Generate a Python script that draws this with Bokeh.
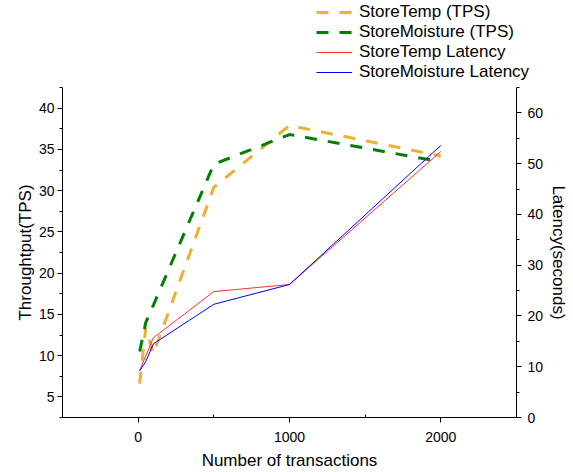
from bokeh.plotting import figure
from bokeh.models import (Range1d, LinearAxis, FixedTicker, Legend, LegendItem)
from bokeh.layouts import column
from bokeh.embed import file_html
from bokeh.resources import INLINE

# ---- data ----
transactions = [10, 50, 100, 500, 1000, 2000]
store_temp_tps = [6.6, 13.4, 10.2, 30.4, 37.9, 34.2]
store_moist_tps = [10.5, 14.0, 16.1, 33.2, 36.8, 33.5]
store_temp_latency = [9.3, 12.1, 15.7, 24.8, 26.2, 52.4]
store_moist_latency = [9.2, 11.0, 14.5, 22.3, 26.2, 53.6]

series_names = ["StoreTemp (TPS)", "StoreMoisture (TPS)",
                "StoreTemp Latency", "StoreMoisture Latency"]

x_major = [0, 1000, 2000]
x_minor = [-500, 500, 1500, 2500]
y_major = [5, 10, 15, 20, 25, 30, 35, 40]
y_minor = [2.5 + 2.5 * i for i in range(17)]
lat_major = [0, 10, 20, 30, 40, 50, 60]
lat_minor = [5 * i for i in range(14)]

FONT = "Liberation Sans"
ORANGE, GREEN, RED, BLUE = "#EBB035", "#008000", "#FF3030", "#0000FF"
styles = [dict(line_color=ORANGE, line_width=3, line_dash="12 11"),
          dict(line_color=GREEN, line_width=3, line_dash="12 11"),
          dict(line_color=RED, line_width=1),
          dict(line_color=BLUE, line_width=1)]
series = [store_temp_tps, store_moist_tps, store_temp_latency, store_moist_latency]

# ---------------- main chart ----------------
p = figure(width=573, height=385, output_backend="svg", toolbar_location=None,
           x_range=Range1d(-500, 2500), y_range=Range1d(2.5, 42.5),
           min_border_left=62, min_border_right=57, min_border_top=0,
           min_border_bottom=55)
p.extra_y_ranges = {"lat": Range1d(0, 65)}
p.outline_line_color = None
p.xgrid.visible = False
p.ygrid.visible = False
p.background_fill_color = "white"
p.border_fill_color = "white"

p.line(transactions, store_temp_tps, **styles[0])
p.line(transactions, store_moist_tps, **styles[1])
p.line(transactions, store_temp_latency, y_range_name="lat", **styles[2])
p.line(transactions, store_moist_latency, y_range_name="lat", **styles[3])

def style_axis(ax):
    ax.axis_line_color = "black"
    ax.axis_line_width = 1
    ax.major_tick_line_color = "black"
    ax.minor_tick_line_color = "black"
    ax.major_tick_in = 0
    ax.major_tick_out = 5
    ax.minor_tick_in = 0
    ax.minor_tick_out = 3
    ax.major_label_text_font = FONT
    ax.major_label_text_font_size = "14px"
    ax.major_label_text_color = "black"
    ax.axis_label_text_font = FONT
    ax.axis_label_text_font_size = "17px"
    ax.axis_label_text_font_style = "normal"
    ax.axis_label_text_color = "black"

xa = p.xaxis[0]
style_axis(xa)
xa.ticker = FixedTicker(ticks=x_major, minor_ticks=x_minor)
xa.axis_label = "Number of transactions"
xa.minor_tick_in = 3
xa.minor_tick_out = 0
xa.major_label_standoff = 9
xa.axis_label_standoff = 6

ya = p.yaxis[0]
style_axis(ya)
ya.ticker = FixedTicker(ticks=y_major, minor_ticks=y_minor)
ya.axis_label = "Throughtput(TPS)"
ya.major_label_standoff = 3
ya.axis_label_standoff = 1

ra = LinearAxis(y_range_name="lat", axis_label="Latency(seconds)")
style_axis(ra)
ra.ticker = FixedTicker(ticks=lat_major, minor_ticks=lat_minor)
ra.major_label_standoff = 6
ra.axis_label_standoff = 3
p.add_layout(ra, "right")

# ---------------- legend strip above the chart ----------------
# The series are repeated here out of view (range far away) only so that
# the legend has glyph renderers of the same style.
lg = figure(width=573, height=87, output_backend="svg", toolbar_location=None,
            x_range=Range1d(100000, 100001), y_range=Range1d(100000, 100001),
            x_axis_type=None, y_axis_type=None,
            min_border_left=0, min_border_right=0, min_border_top=0,
            min_border_bottom=0)
lg.frame_align = False
lg.outline_line_color = None
lg.xgrid.visible = False
lg.ygrid.visible = False
lg.border_fill_color = "white"
lg.background_fill_color = "white"

items = []
for name, st, ys in zip(series_names, styles, series):
    rr = lg.line(transactions, ys, **st)
    items.append(LegendItem(label=name, renderers=[rr]))

legend = Legend(items=items, location=(316, 5), orientation="vertical")
legend.label_text_font = FONT
legend.label_text_font_size = "17px"
legend.label_text_color = "black"
legend.glyph_width = 36
legend.glyph_height = 20
legend.label_height = 20
legend.label_standoff = 7
legend.spacing = 0
legend.padding = 0
legend.margin = 0
legend.border_line_color = None
legend.background_fill_alpha = 0
lg.add_layout(legend, "center")

layout = column(lg, p, spacing=0)
open("out.html", "w").write(file_html(layout, INLINE))
